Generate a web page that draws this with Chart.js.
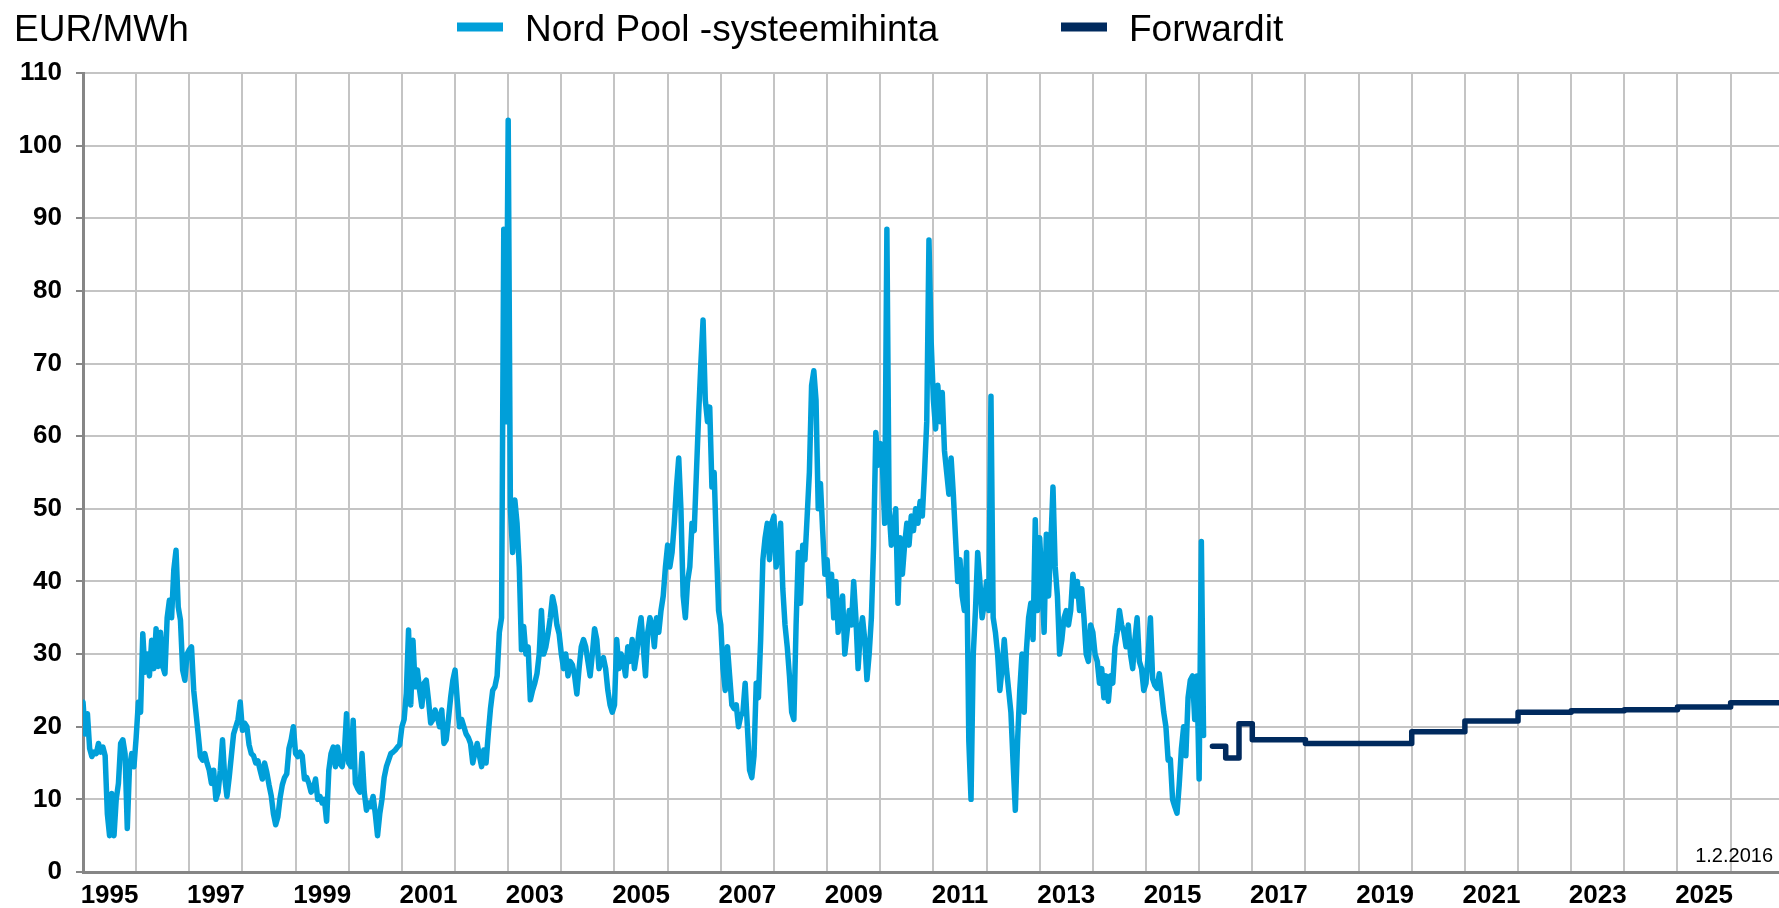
<!DOCTYPE html>
<html>
<head>
<meta charset="utf-8">
<title>Nord Pool -systeemihinta ja forwardit</title>
<script src="https://cdn.jsdelivr.net/npm/chart.js@4.4.1/dist/chart.umd.min.js"></script>
<style>
  html, body { margin: 0; padding: 0; background: #fff; overflow: hidden; }
  canvas { display: block; }
</style>
</head>
<body>
<canvas id="priceChart" width="1779" height="908"></canvas>
<script>
// yksikkö, päiväys ja sarjojen nimet
const unitLabel = 'EUR/MWh';
const dateNote = '1.2.2016';
const seriesNames = ['Nord Pool -systeemihinta', 'Forwardit'];

// systeemihinta, puolen kuukauden välein alkaen 1.1.1995
const spotStart = 1995;
const spotStep = 1 / 24;
const spotPrices = [
  23.4, 19, 21.8, 17, 15.9, 16.5, 16.3, 17.7, 16.5, 17.2, 16, 8, 5, 10.8, 5, 10, 12.2, 17.7, 18.2, 16.3, 6, 14.5, 16.3, 14.5,        // 1995
  18.5, 23.4, 22, 32.8, 27.5, 30, 27, 31.9, 28, 33.5, 28.3, 33, 28.3, 27.3, 35, 37.4, 35, 41.6, 44.3, 36.5, 34.7, 27.8, 26.4, 30,   // 1996
  30.6, 31, 25, 22, 19, 15.9, 15.4, 16.3, 15, 14, 12.2, 14, 10, 11, 14, 18.2, 13, 10.4, 13, 16, 19, 20, 21, 23.4,                   // 1997
  19.5, 20.5, 20, 17.5, 16.3, 16, 15, 15.3, 14, 12.8, 15, 13.7, 12, 10.5, 8, 6.5, 7.6, 10.2, 12, 13, 13.5, 17, 18.2, 20,            // 1998
  16.3, 15.9, 16.5, 16, 12.8, 13, 12.2, 11, 11.5, 12.8, 10, 10.4, 9.5, 10, 7, 14, 16.3, 17.2, 14.5, 17.2, 15, 14.5, 16.3, 21.8,     // 1999
  15, 14.5, 20.9, 12.2, 11.5, 11, 16.3, 11, 8.5, 9.5, 9, 10.4, 8, 5, 8, 10, 13, 14.5, 15.4, 16.3, 16.5, 16.8, 17.2, 17.5,           // 2000
  20, 21, 24.6, 33.3, 23, 31.9, 25.5, 27.8, 25, 22.8, 26, 26.4, 23.7, 20.5, 21, 22.3, 21.4, 20, 22.3, 17.7, 18.2, 21, 24, 26.4,     // 2001
  27.8, 23.7, 20, 21, 20, 19, 18.5, 17.7, 15, 16.5, 17.7, 16, 14.5, 16.8, 15, 19, 22.5, 25, 25.5, 27, 33, 35, 88.5, 62,             // 2002
  103.5, 50, 44, 51.2, 48, 42, 30.6, 33.8, 30, 31, 23.7, 25, 26, 27.3, 30, 36, 30, 31, 32.8, 35, 37.9, 36.5, 34, 32.8,              // 2003
  30, 28, 30, 27, 29, 28.5, 27, 24.5, 28, 31, 32, 31, 29, 27, 30, 33.5, 32, 28, 29, 29.5, 28, 25, 23, 22,                           // 2004
  23, 32, 28, 30, 29, 27, 31, 29, 32, 28, 30, 33, 35, 31, 27, 33, 35, 34, 31, 35, 33, 36, 38, 42,                                   // 2005
  45, 42, 44, 48, 53, 57, 50, 38, 35, 40, 42, 48, 47, 55, 63, 70, 76, 65, 62, 64, 53, 55, 45, 36,                                   // 2006
  34, 28, 25, 31, 27, 23, 22.5, 23, 20, 21.5, 22, 26, 20, 14, 13, 16, 26, 24, 32, 43, 46, 48, 43, 48,                               // 2007
  49, 42, 45, 48, 39, 34, 31, 27, 22, 21, 34, 44, 37, 45, 43, 49, 55, 67, 69, 65, 50, 53.5, 47, 41,                                 // 2008
  43, 38, 41, 35, 40, 33, 36, 38, 30, 33, 36, 34, 40, 35, 28, 33, 35, 32, 26.5, 30, 35, 45, 60.5, 56,                               // 2009
  59, 56, 48, 88.5, 50, 45, 47, 50, 37, 46, 41, 45, 48, 45, 49, 47, 50, 48, 51, 49, 55, 62, 87, 73,                                 // 2010
  65, 61, 67, 62, 66, 58, 55, 52, 57, 52, 46, 40, 43, 38, 36, 44, 18, 10, 30, 36, 44, 40, 35, 37,                                   // 2011
  40, 36, 65.5, 35, 33, 30, 25, 28, 32, 28, 25, 22, 15, 8.5, 18, 25, 30, 22, 30.5, 35, 37, 32, 48.5, 36,                            // 2012
  46, 40, 33, 46.5, 38, 45, 53, 42, 38, 30, 32, 35, 36, 34, 36, 41, 38, 40, 36, 39, 35, 30, 29, 34,                                 // 2013
  33, 30, 29, 26, 28, 24, 27, 23.5, 27, 26, 31, 33, 36, 34, 33, 31, 34, 30, 28, 32, 35, 29, 28, 25,                                 // 2014
  26, 30, 35, 26.6, 25.7, 25.3, 27.3, 24.8, 22, 20, 15.4, 15.5, 10, 9, 8.1, 12, 17, 20, 16, 24, 26.4, 27, 21, 27,                   // 2015
  12.8, 45.5, 18.8                                                                                                                  // 2016
];

// forwardit: jakson alku (vuosi) ja hinta
const forwardFrom = [2016.25, 2016.5, 2016.75, 2017, 2018, 2019, 2020, 2021, 2022, 2023, 2024, 2025, 2026, 2027];
const forwardPrices = [17.3, 15.7, 20.4, 18.2, 17.7, 17.7, 19.3, 20.8, 22.0, 22.2, 22.35, 22.7, 23.3, 23.3];

// akselit
const xMin = 1995;
const xMax = 2026.91;
const gridYears = [];
for (let y = 1995; y <= 2026; y++) gridYears.push(y);
const labelYears = [1995, 1997, 1999, 2001, 2003, 2005, 2007, 2009, 2011, 2013, 2015, 2017, 2019, 2021, 2023, 2025];
const yTicks = [0, 10, 20, 30, 40, 50, 60, 70, 80, 90, 100, 110];

const spotColor = '#009fd9';
const fwdColor = '#002a5e';
const axisGray = '#868686';
const gridGray = '#c4c4c4';
const fontFamily = '"Liberation Sans", Arial, Helvetica, sans-serif';

Chart.defaults.font.family = fontFamily;
Chart.defaults.color = '#000';

// otsikkorivi: yksikkö, selite ja päiväys
const headerText = {
  id: 'headerText',
  afterDraw(chart) {
    const ctx = chart.ctx;
    ctx.save();
    ctx.fillStyle = '#000';
    ctx.textBaseline = 'alphabetic';
    ctx.font = '37px ' + fontFamily;
    ctx.textAlign = 'left';
    ctx.fillText(unitLabel, 14, 41);

    const starts = [457, 1061];
    chart.data.datasets.forEach((ds, i) => {
      const x = starts[i];
      ctx.strokeStyle = ds.borderColor;
      ctx.lineWidth = 9;
      ctx.lineCap = 'butt';
      ctx.beginPath();
      ctx.moveTo(x, 27);
      ctx.lineTo(x + 46, 27);
      ctx.stroke();
      ctx.fillText(ds.label, x + 68, 41);
    });

    ctx.font = '20px ' + fontFamily;
    ctx.textAlign = 'right';
    ctx.fillText(dateNote, 1773, 862);
    ctx.restore();
  }
};

new Chart(document.getElementById('priceChart'), {
  type: 'line',
  data: {
    datasets: [{
      label: seriesNames[0],
      data: spotPrices.map((v, i) => ({ x: spotStart + i * spotStep, y: v })),
      borderColor: spotColor,
      borderWidth: 5.5,
      pointRadius: 0,
      tension: 0,
      borderJoinStyle: 'round',
      borderCapStyle: 'round'
    }, {
      label: seriesNames[1],
      data: forwardFrom.map((x, i) => ({ x: x, y: forwardPrices[i] })),
      borderColor: fwdColor,
      borderWidth: 5.5,
      pointRadius: 0,
      stepped: 'before',
      borderJoinStyle: 'round',
      borderCapStyle: 'round'
    }]
  },
  options: {
    responsive: false,
    animation: false,
    devicePixelRatio: 1,
    layout: { padding: { top: 73, left: 0, right: 0, bottom: 0 } },
    plugins: {
      legend: { display: false },
      title: { display: false },
      tooltip: { enabled: false }
    },
    scales: {
      x: {
        type: 'linear',
        position: 'bottom',
        min: xMin,
        max: xMax,
        afterBuildTicks: s => { s.ticks = gridYears.map(v => ({ value: v })); },
        afterFit: s => { s.height = 0; },
        ticks: { display: false },
        grid: { color: gridGray, lineWidth: 2, drawTicks: false },
        border: { color: axisGray, width: 3 }
      },
      xl: {
        type: 'linear',
        position: 'bottom',
        min: xMin,
        max: xMax,
        afterBuildTicks: s => { s.ticks = labelYears.map(v => ({ value: v + 0.5 })); },
        afterFit: s => { s.height = 36; },
        ticks: {
          autoSkip: false,
          maxRotation: 0,
          padding: 8,
          color: '#000',
          font: { size: 26, weight: 'bold' },
          callback: v => String(Math.floor(v))
        },
        grid: { display: false, drawTicks: false },
        border: { display: false }
      },
      y: {
        min: 0,
        max: 110,
        afterBuildTicks: s => { s.ticks = yTicks.map(v => ({ value: v })); },
        afterFit: s => { s.width = 83; },
        ticks: {
          padding: 14,
          color: '#000',
          font: { size: 26, weight: 'bold' }
        },
        grid: { color: gridGray, lineWidth: 2, tickLength: 7, tickColor: axisGray },
        border: { color: axisGray, width: 3 }
      }
    }
  },
  plugins: [headerText]
});
</script>
</body>
</html>
